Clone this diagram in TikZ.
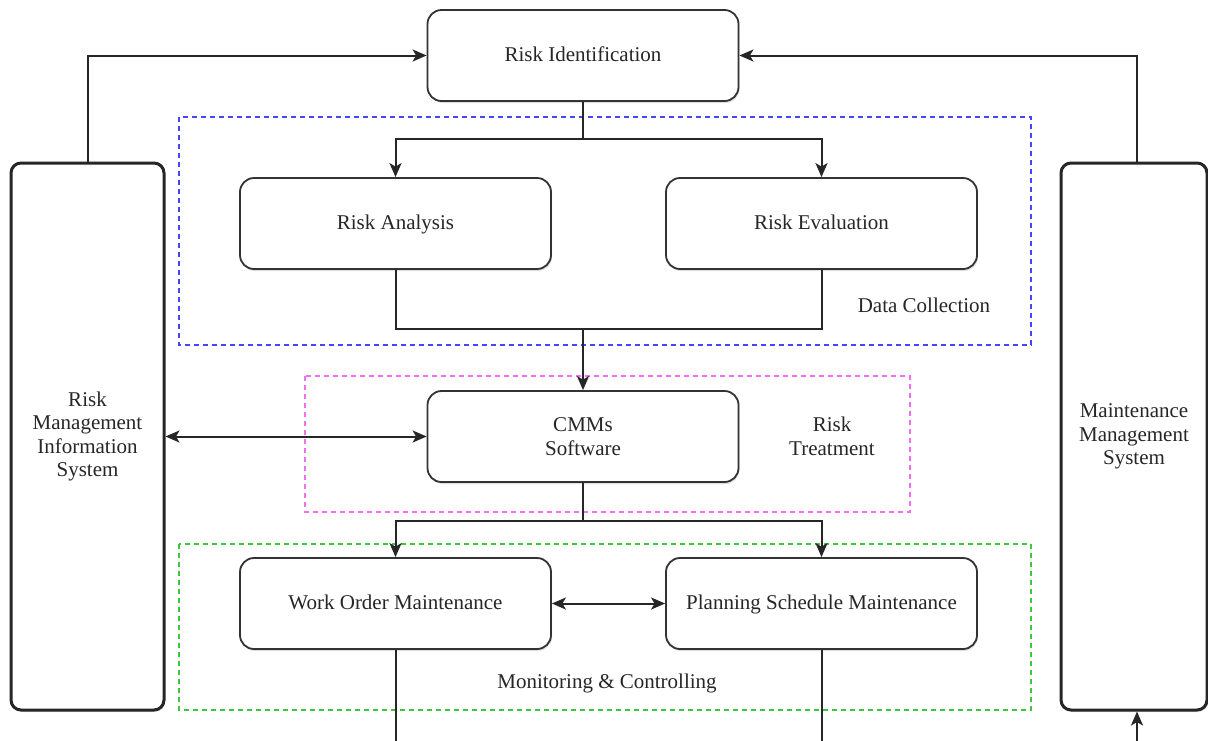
\documentclass[tikz,border=0pt]{standalone}
\usepackage{fontspec}
\setmainfont{Liberation Serif}
\usetikzlibrary{arrows.meta,shadows}
\begin{document}
\begin{tikzpicture}[x=1pt,y=-1pt,
  font=\fontsize{21}{23.5}\selectfont,
  box/.style={draw=black!80, line width=1.8pt, rounded corners=14pt,
    minimum width=311pt, minimum height=91pt, align=center, fill=white,
    inner sep=0pt, text=black!85,
    drop shadow={shadow xshift=1pt, shadow yshift=-2pt, opacity=0.25}},
  oneline/.style={text height=15pt, text depth=3pt},
  sidebox/.style={draw=black!85, line width=3pt, rounded corners=10pt,
    minimum height=547pt, align=center, fill=white, inner sep=0pt, text=black!85,
    drop shadow={shadow xshift=1pt, shadow yshift=-2pt, opacity=0.25}},
  link/.style={draw=black!85, line width=2pt},
  arr/.style={link, -{Stealth[length=14pt,width=12pt,inset=3.5pt]}},
  darr/.style={link, {Stealth[length=14pt,width=12pt,inset=3.5pt]}-{Stealth[length=14pt,width=12pt,inset=3.5pt]}},
  zone/.style={line width=1.5pt, dash pattern=on 5pt off 4pt},
  lbl/.style={align=center, text=black!85}
]
\useasboundingbox (0,0) rectangle (1208,740);

% grouping zones
\draw[zone, draw={rgb,255:red,70;green,70;blue,245}] (179,117) rectangle (1031,345);
\draw[zone, draw={rgb,255:red,240;green,110;blue,240}] (305,376) rectangle (910,512);
\draw[zone, draw={rgb,255:red,60;green,200;blue,60}] (179,544) rectangle (1031,710);

% process steps
\node[box, oneline] (rid)  at (583,55.5)    {Risk Identification};
\node[box, oneline] (ra)   at (395.5,223.5) {Risk Analysis};
\node[box, oneline] (re)   at (821.5,223.5) {Risk Evaluation};
\node[box]          (cmms) at (583,436.5)   {CMMs\\Software};
\node[box, oneline] (wo)   at (395.5,603.5) {Work Order Maintenance};
\node[box, oneline] (ps)   at (821.5,603.5) {Planning Schedule Maintenance};

% side systems
\node[sidebox, minimum width=153pt] (rmis) at (87.5,436.5)
  {Risk\\Management\\Information\\System};
\node[sidebox, minimum width=146pt] (mms) at (1134,436.5)
  {Maintenance\\Management\\System};

% zone labels
\node[lbl, oneline] (dc) at (924,306) {Data Collection};
\node[lbl] (rt) at (832,436.5) {Risk\\Treatment};
\node[lbl, oneline] (mc) at (607,682) {Monitoring \& Controlling};

% junction points
\coordinate (split1) at (583,139);
\coordinate (merge)  at (583,329);
\coordinate (split2) at (583,521);
\coordinate (woEnd)  at (395.5,748);
\coordinate (psEnd)  at (821.5,748);
\coordinate (mmsIn)  at (1137,748);

% connectors
\draw[link] (rid.south) -- (split1);
\draw[arr] (split1) -| (ra.north);
\draw[arr] (split1) -| (re.north);
\draw[link] (ra.south) |- (merge) -| (re.south);
\draw[arr] (merge) -- (cmms.north);
\draw[link] (cmms.south) -- (split2);
\draw[arr] (split2) -| (wo.north);
\draw[arr] (split2) -| (ps.north);
\draw[darr] (rmis.east) -- (cmms.west);
\draw[darr] (wo.east) -- (ps.west);
\draw[arr] (rmis.north) |- (rid.west);
\draw[arr] (mms.north) ++(3,0) |- (rid.east);
\draw[link] (wo.south) -- (woEnd);
\draw[link] (ps.south) -- (psEnd);
\draw[arr] (mmsIn) -- (mmsIn |- mms.south);
\end{tikzpicture}
\end{document}
